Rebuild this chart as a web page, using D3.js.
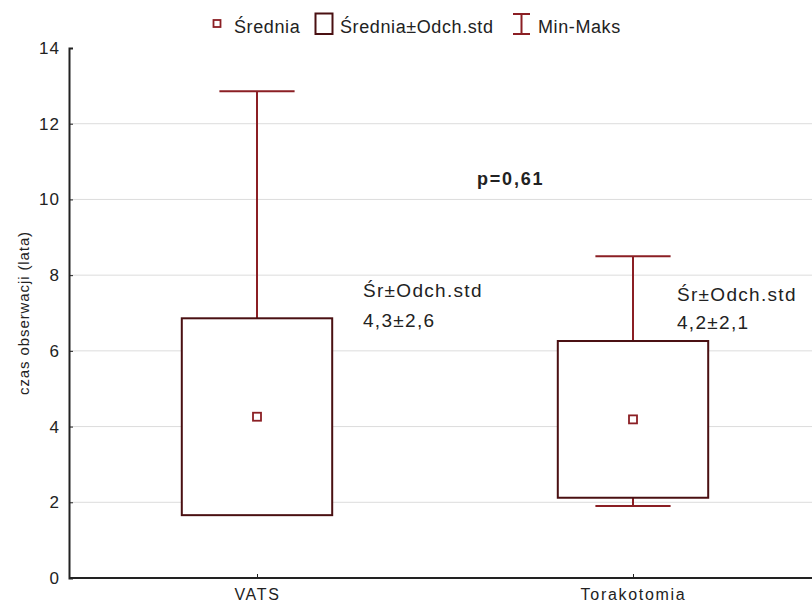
<!DOCTYPE html>
<html>
<head>
<meta charset="utf-8">
<script src="https://cdn.jsdelivr.net/npm/d3@7"></script>
<style>
  body { margin: 0; background: #fff; }
  text { font-family: Arial, "Liberation Sans", sans-serif; fill: #222; }
</style>
</head>
<body>
<svg id="chart" width="812" height="605"></svg>
<script>
// data
var categories = ["VATS", "Torakotomia"];
var means = [4.26, 4.19];
var sds = [2.6, 2.07];
var mins = [1.66, 1.9];
var maxs = [12.86, 8.5];
var annotTop = ["Śr±Odch.std", "Śr±Odch.std"];
var annotBottom = ["4,3±2,6", "4,2±2,1"];
var yTicks = [0, 2, 4, 6, 8, 10, 12, 14];
var pLabel = "p=0,61";

var whiskerColor = "#8b1f24", boxColor = "#4a1012";

var svg = d3.select("#chart");
// plot area runs a little past the right edge of the picture
var margin = {left: 69, top: 48, bottom: 27, right: -9};
var width = +svg.attr("width"), height = +svg.attr("height");

var x = d3.scalePoint().domain(categories).range([margin.left, width - margin.right]).padding(0.5);
var y = d3.scaleLinear().domain([0, 14]).range([height - margin.bottom, margin.top]);
var step = x.step();

// grid
svg.append("g").selectAll("line").data(yTicks.filter(function (d) { return d > 0 && d < 14; }))
  .enter().append("line")
  .attr("x1", margin.left).attr("x2", width)
  .attr("y1", function (d) { return y(d); }).attr("y2", function (d) { return y(d); })
  .attr("stroke", "#dcdcdc").attr("stroke-width", 1);

// axes
var yAxis = svg.append("g").attr("transform", "translate(" + margin.left + ",0)")
  .call(d3.axisLeft(y).tickValues(yTicks).tickSize(-4).tickPadding(9));
yAxis.selectAll("text").style("font-size", "17px").style("letter-spacing", "1px").attr("fill", "#222");
yAxis.selectAll("line,path").attr("stroke", "#222");
yAxis.select(".domain").attr("stroke-width", 2);

var xAxis = svg.append("g").attr("transform", "translate(0," + y(0) + ")")
  .call(d3.axisBottom(x).tickSize(-4).tickPadding(11));
xAxis.select(".domain").attr("d", "M" + margin.left + ",0H" + width).attr("stroke", "#222").attr("stroke-width", 2);
xAxis.selectAll("line").attr("stroke", "#222");
xAxis.selectAll("text").style("font-size", "16px").style("letter-spacing", "1.7px").attr("fill", "#222");

// y title
svg.append("text")
  .attr("transform", "translate(29," + ((margin.top + y(0)) / 2) + ") rotate(-90)")
  .attr("text-anchor", "middle").style("font-size", "15px").style("letter-spacing", "0.9px")
  .text("czas obserwacji (lata)");

var boxW = step * 0.4, capW = step * 0.2;
var annotDx = [106, 44], annotY = [[297, 327], [301, 329]];
var groups = svg.append("g").selectAll("g").data(categories).enter().append("g");

groups.each(function (c, i) {
  var g = d3.select(this), cx = x(c);
  var lo = means[i] - sds[i], hi = means[i] + sds[i];
  // upper whisker
  g.append("line").attr("x1", cx).attr("x2", cx).attr("y1", y(hi)).attr("y2", y(maxs[i]))
    .attr("stroke", whiskerColor).attr("stroke-width", 2);
  g.append("line").attr("x1", cx - capW / 2).attr("x2", cx + capW / 2).attr("y1", y(maxs[i])).attr("y2", y(maxs[i]))
    .attr("stroke", whiskerColor).attr("stroke-width", 2);
  // lower whisker
  if (mins[i] < lo) {
    g.append("line").attr("x1", cx).attr("x2", cx).attr("y1", y(lo)).attr("y2", y(mins[i]))
      .attr("stroke", whiskerColor).attr("stroke-width", 2);
    g.append("line").attr("x1", cx - capW / 2).attr("x2", cx + capW / 2).attr("y1", y(mins[i])).attr("y2", y(mins[i]))
      .attr("stroke", whiskerColor).attr("stroke-width", 2);
  }
  // box
  g.append("rect").attr("x", cx - boxW / 2).attr("width", boxW)
    .attr("y", y(hi)).attr("height", y(lo) - y(hi))
    .attr("fill", "#fff").attr("stroke", boxColor).attr("stroke-width", 2);
  // mean
  g.append("rect").attr("x", cx - 4).attr("y", y(means[i]) - 4).attr("width", 8).attr("height", 8)
    .attr("fill", "#fff").attr("stroke", whiskerColor).attr("stroke-width", 1.8);
  // annotation
  var tx = cx + annotDx[i];
  g.append("text").attr("x", tx).attr("y", annotY[i][0]).style("font-size", "19px").style("letter-spacing", "1.3px").text(annotTop[i]);
  g.append("text").attr("x", tx).attr("y", annotY[i][1]).style("font-size", "19px").style("letter-spacing", "1.3px").text(annotBottom[i]);
});

svg.append("text").attr("x", 477).attr("y", 185)
  .style("font-size", "18px").style("font-weight", "bold").style("letter-spacing", "1.8px").text(pLabel);

// legend
var leg = svg.append("g");
leg.append("rect").attr("x", 213.5).attr("y", 20).attr("width", 7).attr("height", 7)
  .attr("fill", "#fff").attr("stroke", whiskerColor).attr("stroke-width", 1.8);
leg.append("text").attr("x", 234).attr("y", 33).style("font-size", "18px").style("letter-spacing", "0.6px").text("Średnia");
leg.append("rect").attr("x", 315.5).attr("y", 13.5).attr("width", 17).attr("height", 20.5)
  .attr("fill", "#fff").attr("stroke", boxColor).attr("stroke-width", 2);
leg.append("text").attr("x", 340).attr("y", 33).style("font-size", "18px").style("letter-spacing", "0.6px").text("Średnia±Odch.std");
leg.append("line").attr("x1", 521.5).attr("x2", 521.5).attr("y1", 14).attr("y2", 34).attr("stroke", whiskerColor).attr("stroke-width", 2);
leg.append("line").attr("x1", 513).attr("x2", 530).attr("y1", 14).attr("y2", 14).attr("stroke", whiskerColor).attr("stroke-width", 2);
leg.append("line").attr("x1", 513).attr("x2", 530).attr("y1", 34).attr("y2", 34).attr("stroke", whiskerColor).attr("stroke-width", 2);
leg.append("text").attr("x", 538).attr("y", 33).style("font-size", "18px").style("letter-spacing", "0.6px").text("Min-Maks");
</script>
</body>
</html>
